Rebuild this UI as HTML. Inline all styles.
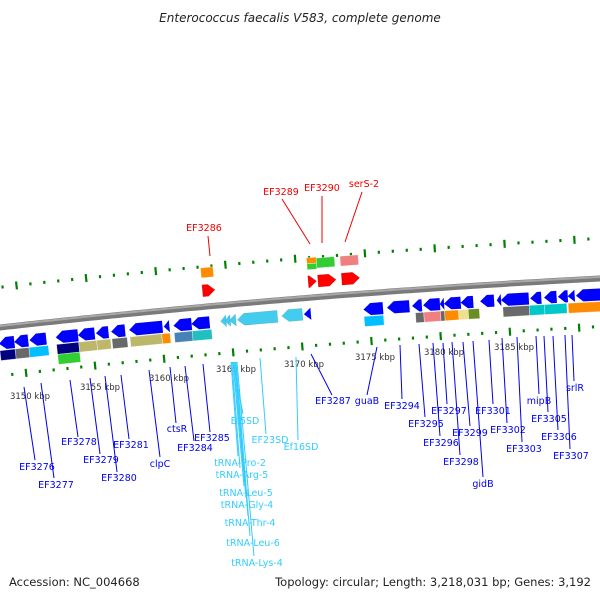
<!DOCTYPE html>
<html><head><meta charset="utf-8">
<style>
html,body{margin:0;padding:0;background:#fff;}
svg{display:block;font-family:"DejaVu Sans","Liberation Sans",sans-serif;}
</style></head>
<body>
<svg id="map" width="600" height="600" viewBox="0 0 600 600" xmlns="http://www.w3.org/2000/svg">
<text x="300" y="22" text-anchor="middle" font-size="12" font-style="italic" fill="#222">Enterococcus faecalis V583, complete genome</text>
<g id="rings"></g>
<g id="backbone"></g>
<g id="feats"></g>
<g id="labels"></g>
<text x="9" y="586" font-size="11.5" fill="#222">Accession: NC_004668</text>
<text x="591" y="586" text-anchor="end" font-size="11.5" fill="#222">Topology: circular; Length: 3,218,031 bp; Genes: 3,192</text>
</svg>
<script>
// ---- data ----
const revGenes = [[3148.3,3149.4],[3149.4,3150.4],[3150.5,3151.7],[3152.4,3154.0],[3154.0,3155.2],[3155.3,3156.2],[3156.4,3157.4],[3157.7,3160.1],[3160.2,3160.6],[3160.9,3162.2],[3162.2,3163.5],[3170.3,3170.8],[3174.6,3176.0],[3176.3,3177.9],[3178.1,3178.8],[3178.9,3180.1],[3180.1,3180.4],[3180.4,3181.6],[3181.6,3182.5],[3183.0,3184.0],[3184.2,3184.5],[3184.5,3186.5],[3186.6,3187.4],[3187.6,3188.5],[3188.6,3189.3],[3189.3,3189.8],[3189.9,3192.0]];
const rnaGenes = [[3164.3,3164.7],[3164.6,3165.0],[3164.9,3165.4],[3165.5,3168.4],[3168.7,3170.2]];
const fwdGenes = [[3163.2,3164.1],[3170.8,3171.4],[3171.5,3172.8],[3173.2,3174.5]];
const upperBoxes = [[3163.2,3164.1,'#ff8c00',0],[3170.8,3171.5,'#ff8c00',1],[3170.8,3171.5,'#32cd32',2],[3171.5,3172.8,'#32cd32',0],[3173.2,3174.5,'#f08080',0]];
const boxStarts = [3148.3,3149.4,3150.4,3152.4,3152.4,3154.0,3155.3,3156.4,3157.7,3160.0,3160.9,3162.2,3174.6,3178.3,3178.9,3180.1,3180.4,3181.4,3182.1,3184.6,3186.5,3187.6,3189.3];
const boxEnds   = [3149.4,3150.4,3151.8,3154.0,3154.0,3155.3,3156.3,3157.5,3160.0,3160.6,3162.2,3163.6,3176.0,3178.9,3180.1,3180.4,3181.4,3182.1,3182.9,3186.5,3187.6,3189.2,3191.8];
const boxColors = ['#000080','#696969','#00bfff','#000080','#32cd32','#bdb76b','#bdb76b','#696969','#bdb76b','#ff8c00','#4682b4','#20c0c0','#00bfff','#696969','#f08080','#696969','#ff8c00','#eee08f','#6b8e23','#696969','#00c8c8','#00c8c8','#ff8c00'];
const boxRows   = [0,0,0,0,1,0,0,0,0,0,0,0,0,0,0,0,0,0,0,0,0,0,0];
const tickMin = 3146, tickMax = 3192;
const kbpLabels = [3150,3155,3160,3165,3170,3175,3180,3185];
const kbpLabelPos = [[30,399],[100,390],[169,381],[236,372],[304,367],[375,360],[444,355],[514,350]];
const labels = [
 ['EF3276',37,470,24,387,35,460,'#0000ee'],['EF3277',56,488,41,383,54,478,'#0000ee'],
 ['EF3278',79,445,70,380,78,437,'#0000ee'],['EF3279',101,463,90,378,100,454,'#0000ee'],
 ['EF3280',119,481,105,376,117,472,'#0000ee'],['EF3281',131,448,121,375,129,439,'#0000ee'],
 ['clpC',160,467,149,370,160,457,'#0000ee'],['ctsR',177,432,170,367,176,423,'#0000ee'],
 ['EF3284',195,451,185,366,194,441,'#0000ee'],['EF3285',212,441,203,364,210,432,'#0000ee'],
 ['Ef5SD',245,424,233,362,243,414,'#33ccff'],['EF23SD',270,443,260,358,266,434,'#33ccff'],
 ['Ef16SD',301,450,296,357,298,440,'#33ccff'],
 ['tRNA-Pro-2',240,466,231,362,238,456,'#33ccff'],['tRNA-Arg-5',242,478,232,362,240,468,'#33ccff'],
 ['tRNA-Leu-5',246,496,233,362,244,486,'#33ccff'],['tRNA-Gly-4',247,508,234,362,246,498,'#33ccff'],
 ['tRNA-Thr-4',250,526,235,362,248,516,'#33ccff'],['tRNA-Leu-6',253,546,236,362,250,536,'#33ccff'],
 ['tRNA-Lys-4',257,566,237,362,254,556,'#33ccff'],
 ['EF3287',333,404,311,354,332,395,'#0000ee'],['guaB',367,404,377,347,367,395,'#0000ee'],
 ['EF3294',402,409,400,345,402,399,'#0000ee'],['EF3295',426,427,419,344,425,417,'#0000ee'],
 ['EF3297',449,414,443,343,447,404,'#0000ee'],['EF3296',441,446,433,343,440,436,'#0000ee'],
 ['EF3298',461,465,452,342,460,455,'#0000ee'],['EF3299',470,436,463,342,470,426,'#0000ee'],
 ['gidB',483,487,473,341,483,477,'#0000ee'],['EF3301',493,414,489,340,493,404,'#0000ee'],
 ['EF3302',508,433,502,338,507,423,'#0000ee'],['EF3303',524,452,517,337,522,442,'#0000ee'],
 ['mipB',539,404,536,336,539,394,'#0000ee'],['EF3305',549,422,544,336,548,412,'#0000ee'],
 ['EF3306',559,440,553,336,558,430,'#0000ee'],['EF3307',571,459,565,335,570,449,'#0000ee'],
 ['srlR',575,391,572,335,574,381,'#0000ee'],
 ['EF3286',204,231,208,236,210,256,'#ee0000'],['EF3289',281,195,282,199,310,244,'#ee0000'],
 ['EF3290',322,191,322,196,322,243,'#ee0000'],['serS-2',364,187,362,192,345,242,'#ee0000']
];
// ---- geometry ----
const NS='http://www.w3.org/2000/svg';
const A=1122,B=10367,R=10102;
function phi(k){return -0.10922+(k-3150)*0.00138;}
function pt(k,r){const p=phi(k);return [A+r*Math.sin(p),B-r*Math.cos(p)];}
function mk(tag,attrs,parent){const e=document.createElementNS(NS,tag);for(const a in attrs)e.setAttribute(a,attrs[a]);parent.appendChild(e);return e;}
function P(list){return list.map(p=>p[0].toFixed(1)+','+p[1].toFixed(1)).join(' ');}
const rings=document.getElementById('rings'),bb=document.getElementById('backbone'),feats=document.getElementById('feats'),lab=document.getElementById('labels');
[R+40,R-48].forEach((rr,ri)=>{
 for(let k=tickMin;k<=tickMax;k+=1){
  const major=(k%5===0);
  const len=major?8:3;
  const a=pt(k,rr-len/2),b=pt(k,rr+len/2);
  const t=mk('line',{x1:a[0],y1:a[1],x2:b[0],y2:b[1],stroke:'#008000','stroke-width':2.2},rings);
  
  
 }
});
let pts=[];for(let k=tickMin;k<=tickMax+1;k+=0.5)pts.push(pt(k,R));
const b1=mk('polyline',{points:P(pts),fill:'none',stroke:'#7a7a7a','stroke-width':6},bb);


pts=[];for(let k=tickMin;k<=tickMax+1;k+=0.5)pts.push(pt(k,R+1.5));
mk('polyline',{points:P(pts),fill:'none',stroke:'#a8a8a8','stroke-width':2},bb);
function arrow(s,e,r0,r1,dir,color,name){
 const h=Math.min(0.5,(e-s));const rm=(r0+r1)/2;let poly;
 if(dir<0)poly=[pt(s,rm),pt(s+h,r1),pt(e,r1),pt(e,r0),pt(s+h,r0)];
 else poly=[pt(s,r0),pt(s,r1),pt(e-h,r1),pt(e,rm),pt(e-h,r0)];
 const el=mk('polygon',{points:P(poly),fill:color,stroke:'rgba(0,0,0,0.15)','stroke-width':0.5},feats);
 
 
}
function box(s,e,r0,r1,color,name){
 const el=mk('polygon',{points:P([pt(s,r0),pt(s,r1),pt(e,r1),pt(e,r0)]),fill:color,stroke:'rgba(255,255,255,0.6)','stroke-width':0.6},feats);
 
 
}
revGenes.forEach(g=>arrow(g[0],g[1],R-22,R-10,-1,'#0000ff','reverse-gene'));
rnaGenes.forEach(g=>arrow(g[0],g[1],R-22,R-10,-1,'#44ccee','rna-gene'));
fwdGenes.forEach(g=>arrow(g[0],g[1],R+10,R+22,1,'#ff0000','forward-gene'));
upperBoxes.forEach(b=>{
 let r0=R+29,r1=R+39;
 if(b[3]===1){r0=R+34;r1=R+40;}
 if(b[3]===2){r0=R+28;r1=R+34;}
 box(b[0],b[1],r0,r1,b[2],'cog-box-forward');
});
boxStarts.forEach((s,i)=>{
 const r1=boxRows[i]===0?R-23:R-33, r0=r1-10;
 box(s,boxEnds[i],r0,r1,boxColors[i],'cog-box-reverse');
});
kbpLabels.forEach((k,i)=>{
 const t=mk('text',{x:kbpLabelPos[i][0],y:kbpLabelPos[i][1],'text-anchor':'middle','font-size':8.5,fill:'#333'},lab);
 t.textContent=k+' kbp';
 
 
});
labels.forEach(L=>{
 const ln=mk('line',{x1:L[3],y1:L[4],x2:L[5],y2:L[6],stroke:L[7],'stroke-width':1},lab);
 
 
 const t=mk('text',{x:L[1],y:L[2],'text-anchor':'middle','font-size':9.5,fill:L[7]},lab);
 t.textContent=L[0];
 
 
});
</script>
</body></html>
